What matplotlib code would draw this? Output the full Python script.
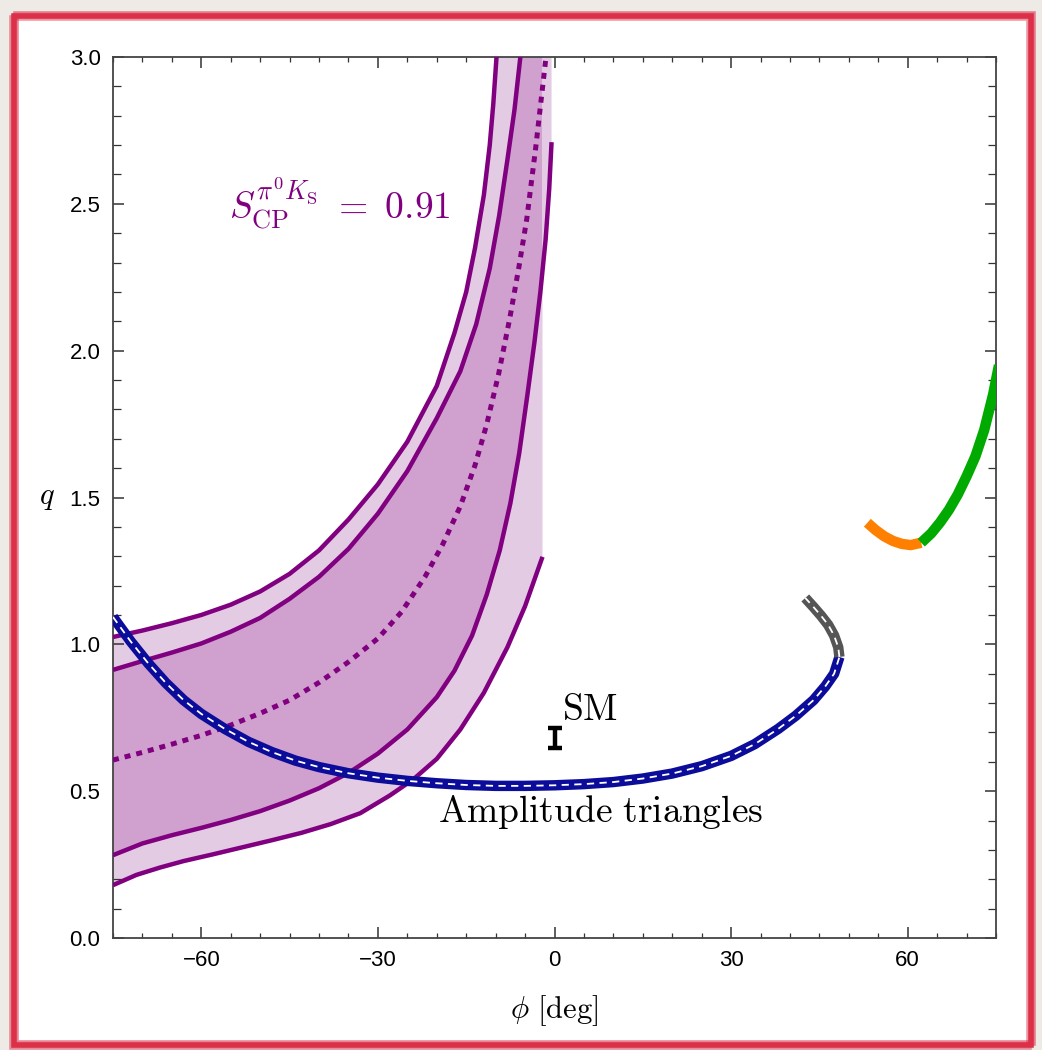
import numpy as np
import matplotlib
matplotlib.use('Agg')
import matplotlib.pyplot as plt
from matplotlib.patches import Polygon, Rectangle
from matplotlib.ticker import MultipleLocator

plt.rc('mathtext', fontset='cm')
plt.rc('font', family='Liberation Sans', size=16)

# S_CP(pi0 K_S) = 0.91 contours: outer (2 sigma), inner (1 sigma), central
c1_phi = [-75, -70, -65, -60, -55, -50, -45, -40, -35, -30, -25, -20, -17, -15, -13.5, -12, -11, -10.4, -9.85]
c1_q = [1.025, 1.047, 1.072, 1.10, 1.135, 1.18, 1.24, 1.32, 1.425, 1.545, 1.69, 1.88, 2.06, 2.20, 2.35, 2.53, 2.70, 2.84, 3.0]

c2_phi = [-75, -70, -65, -60, -55, -50, -45, -40, -35, -30, -25, -20, -16, -13.3, -11, -9.4, -8, -6.8, -5.8]
c2_q = [0.913, 0.943, 0.972, 1.003, 1.043, 1.09, 1.155, 1.23, 1.325, 1.445, 1.59, 1.77, 1.93, 2.09, 2.28, 2.46, 2.65, 2.82, 3.0]

c0_phi = [-75, -70, -65, -60, -55, -50, -45, -40, -35, -30, -26, -22, -19, -16, -13.5, -11.5, -9.5, -7.6, -6, -4.7, -3.2, -1.5]
c0_q = [0.606, 0.632, 0.660, 0.69, 0.725, 0.765, 0.81, 0.87, 0.94, 1.02, 1.11, 1.23, 1.34, 1.47, 1.61, 1.75, 1.92, 2.11, 2.29, 2.45, 2.69, 2.99]

c4_phi = [-75, -70, -65, -60, -55, -50, -45, -40, -35, -30, -25, -20, -17, -14, -11.5, -9.3, -7.5, -6, -4.6, -3.4, -2.4, -1.5, -0.9, -0.5]
c4_q = [0.282, 0.322, 0.350, 0.375, 0.402, 0.432, 0.468, 0.51, 0.562, 0.628, 0.71, 0.82, 0.91, 1.03, 1.17, 1.32, 1.48, 1.65, 1.85, 2.03, 2.2, 2.38, 2.55, 2.71]

c5_phi = [-75, -71, -67, -63, -58, -53, -48, -43, -38, -33, -28, -24, -20, -16, -12, -8, -5, -2.04]
c5_q = [0.18, 0.215, 0.24, 0.262, 0.285, 0.309, 0.333, 0.358, 0.388, 0.425, 0.485, 0.54, 0.61, 0.71, 0.835, 0.99, 1.13, 1.298]

# amplitude triangle solutions
blue_phi = [-75, -72, -69, -66, -63, -60, -56, -52, -48, -44, -40, -35, -30, -25, -20, -15, -10, -5, 0,
            5, 10, 15, 20, 25, 30, 34, 38, 41, 44, 46, 47.5, 48.4]
blue_q = [1.093, 1.01, 0.935, 0.868, 0.81, 0.763, 0.712, 0.668, 0.633, 0.604, 0.582, 0.561, 0.546, 0.535, 0.527,
          0.521, 0.518, 0.518, 0.52, 0.524, 0.531, 0.543, 0.56, 0.585, 0.62, 0.66, 0.712, 0.757, 0.81, 0.857, 0.9, 0.957]
grey_phi = [48.4, 48.2, 47.5, 46.5, 45.3, 44.0, 42.6]
grey_q = [0.957, 0.99, 1.03, 1.066, 1.097, 1.127, 1.158]
orange_phi = [53.15, 54.5, 56, 57.5, 59, 60.5, 62.3]
orange_q = [1.414, 1.39, 1.368, 1.352, 1.342, 1.338, 1.346]
green_phi = [62.3, 64, 65.5, 67, 68.5, 70, 71.5, 73, 74.5, 75.5]
green_q = [1.346, 1.378, 1.415, 1.458, 1.51, 1.572, 1.64, 1.73, 1.85, 1.95]

sm_phi, sm_q, sm_err = 0.0, 0.681, 0.034

purple = '#800080'
light = '#e3cbe4'
dark = '#d0a1ce'
ytop = 3.0

fig = plt.figure(figsize=(10.42, 10.5), dpi=100)
fig.patch.set_facecolor('#eeebe6')
W, H = 1042., 1050.
# white card with rough red border
fig.add_artist(Rectangle((15/W, 1-1043/H), 1015/W, 1028/H, transform=fig.transFigure,
                         facecolor='white', edgecolor='none', zorder=0))
for dx, dy, a in [(0, 0, 1.0), (2, -2, 0.6), (-2, 2, 0.5)]:
    fig.add_artist(Rectangle(((14+dx)/W, 1-(1045+dy)/H), 1017/W, 1029/H, transform=fig.transFigure,
                             facecolor='none', edgecolor='#dc3049', lw=4, alpha=a, zorder=1))

ax = fig.add_axes([113/W, 1-938/H, 883/W, 881/H])
ax.set_xlim(-75, 75)
ax.set_ylim(0, 3)

cut = c5_phi[-1]
# light (2 sigma) band
lt = Polygon(list(zip(c5_phi, c5_q)) + [(cut, ytop)] + list(zip(c1_phi, c1_q))[::-1],
             facecolor=light, edgecolor='none', zorder=1)
ax.add_patch(lt)
strip = Polygon(list(zip(c4_phi, c4_q)) + [(c4_phi[-1], ytop), (c4_phi[0], ytop)],
                facecolor=light, edgecolor='none', zorder=1)
ax.add_patch(strip)
strip.set_clip_path(Rectangle((cut, 0), 10, 3, transform=ax.transData))
# dark (1 sigma) band
dk = Polygon(list(zip(c4_phi, c4_q)) + [(c4_phi[-1], ytop)] + list(zip(c2_phi, c2_q))[::-1],
             facecolor=dark, edgecolor='none', zorder=2)
ax.add_patch(dk)
dk.set_clip_path(Rectangle((-80, 0), cut + 80, 3, transform=ax.transData))

for p, q in [(c1_phi, c1_q), (c2_phi, c2_q), (c4_phi, c4_q), (c5_phi, c5_q)]:
    ax.plot(p, q, color=purple, lw=3.2, zorder=3, solid_capstyle='butt', solid_joinstyle='round')
ax.plot(c0_phi, c0_q, color=purple, lw=3.6, ls=(0, (1.2, 1.2)), zorder=3)

kw = dict(lw=7.5, zorder=4, solid_capstyle='butt', solid_joinstyle='round')
wkw = dict(color='white', lw=1.3, ls=(0, (4, 3)), zorder=5)
ax.plot(blue_phi, blue_q, color='#0c0c9a', **kw)
ax.plot(blue_phi, blue_q, **wkw)
ax.plot(grey_phi, grey_q, color='#555555', **kw)
ax.plot(grey_phi, grey_q, **wkw)
ax.plot(orange_phi, orange_q, color='#ff8000', **kw)
ax.plot(green_phi, green_q, color='#00aa00', **kw)

ax.errorbar([sm_phi], [sm_q], yerr=[sm_err], color='black', elinewidth=3.2,
            capsize=4.8, capthick=3.2, zorder=6)
ax.text(1.2, 0.742, r'$\mathrm{SM}$', fontsize=27, color='black', ha='left', va='baseline')
ax.text(7.8, 0.43, r'$\mathrm{Amplitude\ triangles}$', fontsize=27, ha='center', va='center')
ax.text(-36.5, 2.5, r'$S_{\mathrm{CP}}^{\pi^0 K_{\mathrm{S}}}\ =\ 0.91$', fontsize=27,
        color=purple, ha='center', va='center')

ax.set_xticks([-60, -30, 0, 30, 60])
ax.set_yticks([0.0, 0.5, 1.0, 1.5, 2.0, 2.5, 3.0])
ax.set_yticklabels(['0.0', '0.5', '1.0', '1.5', '2.0', '2.5', '3.0'])
ax.xaxis.set_minor_locator(MultipleLocator(5))
ax.yaxis.set_minor_locator(MultipleLocator(0.1))
ax.tick_params(which='both', direction='in', top=True, right=True, color='#333333')
ax.tick_params(which='major', length=8, width=1.1, pad=9)
ax.tick_params(axis='x', which='minor', length=3.5, width=0.9)
ax.tick_params(axis='y', which='minor', length=5.5, width=0.9)
for s in ax.spines.values():
    s.set_color('#444444')
    s.set_linewidth(1.3)

ax.set_xlabel(r'$\phi\ [\mathrm{deg}]$', fontsize=22)
ax.xaxis.set_label_coords(0.5, -0.082)
ax.xaxis.label.set_va('center')
ax.set_ylabel(r'$q$', fontsize=22, rotation=0)
ax.yaxis.set_label_coords(-0.075, 0.5)
ax.yaxis.label.set_va('center')
ax.yaxis.label.set_ha('center')

fig.savefig('out.png', dpi=100, facecolor=fig.get_facecolor())
